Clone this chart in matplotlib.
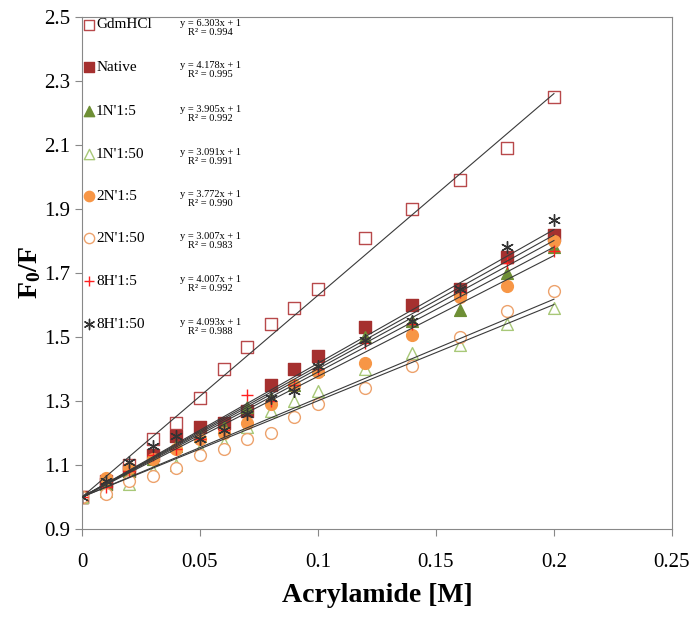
import numpy as np
import matplotlib
matplotlib.use("Agg")
import matplotlib.pyplot as plt

plt.rcParams['font.family'] = ['Liberation Serif', 'DejaVu Serif']
plt.rcParams['mathtext.default'] = 'regular'

# acrylamide concentration [M]
conc = [0, 0.01, 0.02, 0.03, 0.04, 0.05, 0.06, 0.07, 0.08, 0.09, 0.1,
        0.12, 0.14, 0.16, 0.18, 0.2]

gdmhcl = [1.0, 1.05, 1.10, 1.18, 1.23, 1.31, 1.40, 1.47, 1.54, 1.59, 1.65,
          1.81, 1.90, 1.99, 2.09, 2.25]
native = [1.0, 1.04, 1.08, 1.13, 1.19, 1.22, 1.23, 1.27, 1.35, 1.40, 1.44,
          1.53, 1.60, 1.65, 1.75, 1.82]
n1_5 = [1.0, 1.04, 1.08, 1.12, 1.16, 1.19, 1.22, 1.28, 1.31, 1.35, 1.40,
        1.50, 1.55, 1.585, 1.70, 1.78]
n1_50 = [1.0, 1.02, 1.04, 1.08, 1.10, 1.15, 1.17, 1.22, 1.27, 1.30, 1.33,
         1.40, 1.45, 1.475, 1.54, 1.59]
n2_5 = [1.0, 1.06, 1.09, 1.12, 1.15, 1.18, 1.20, 1.23, 1.29, 1.35, 1.39,
        1.42, 1.505, 1.625, 1.66, 1.80]
n2_50 = [1.0, 1.01, 1.05, 1.065, 1.09, 1.13, 1.15, 1.18, 1.20, 1.25, 1.29,
         1.34, 1.41, 1.50, 1.58, 1.645]
h8_5 = [1.0, 1.03, 1.08, 1.13, 1.15, 1.18, 1.21, 1.32, 1.30, 1.35, 1.40,
        1.48, 1.54, 1.64, 1.73, 1.77]
h8_50 = [1.0, 1.05, 1.11, 1.16, 1.19, 1.18, 1.21, 1.26, 1.31, 1.33, 1.41,
         1.49, 1.55, 1.65, 1.78, 1.865]

names = ["GdmHCl", "Native", "1N'1:5", "1N'1:50", "2N'1:5", "2N'1:50",
         "8H'1:5", "8H'1:50"]
series = [gdmhcl, native, n1_5, n1_50, n2_5, n2_50, h8_5, h8_50]
slopes = [6.303, 4.178, 3.905, 3.091, 3.772, 3.007, 4.007, 4.093]
r2 = [0.994, 0.995, 0.992, 0.991, 0.990, 0.983, 0.992, 0.988]

# marker, face, edge
styles = [
    ("s", "white", "#B8494B"),
    ("s", "#A5302F", "#A5302F"),
    ("^", "#6E8F35", "#6E8F35"),
    ("^", "white", "#A8C878"),
    ("o", "#F79646", "#F79646"),
    ("o", "white", "#EDA26C"),
    ("+", "#FF2020", "#FF2020"),
    ((6, 2, 0), "#333333", "#333333"),
]

fig = plt.figure(figsize=(6.92, 6.18), dpi=100)
ax = fig.add_axes([0.1185, 0.144, 0.8525, 0.8285])

xfit = np.array([conc[0], conc[-1]])
for s, k in zip(series, slopes):
    ax.plot(xfit, 1 + k * xfit, color="#3a3a3a", lw=0.8, zorder=3)

for s, (m, fc, ec) in zip(series, styles):
    ax.scatter(conc, s, marker=m, s=72, facecolors=fc, edgecolors=ec,
               linewidths=1.0, zorder=2)

# legend-like annotations
row_y = [0.985, 0.902, 0.816, 0.732, 0.650, 0.568, 0.484, 0.400]
for i, (nm, k, r, (m, fc, ec)) in enumerate(zip(names, slopes, r2, styles)):
    y = row_y[i]
    ax.scatter([0.012], [y], transform=ax.transAxes, marker=m, s=55,
               facecolors=fc, edgecolors=ec, linewidths=1.0, clip_on=False,
               zorder=4)
    ax.text(0.024, y, nm, transform=ax.transAxes, fontsize=11,
            va="center", ha="left")
    ax.text(0.218, y + 0.012, f"y = {k:.3f}x + 1\nR\u00b2 = {r:.3f}",
            transform=ax.transAxes, fontsize=7.5, va="top", ha="center",
            linespacing=1.05)

ax.set_xlim(0, 0.25)
ax.set_ylim(0.9, 2.5)
ax.set_xticks([0, 0.05, 0.1, 0.15, 0.2, 0.25])
ax.set_xticklabels(["0", "0.05", "0.1", "0.15", "0.2", "0.25"])
ax.set_yticks(np.arange(0.9, 2.51, 0.2))
ax.set_yticklabels(["0.9", "1.1", "1.3", "1.5", "1.7", "1.9", "2.1", "2.3", "2.5"])
ax.tick_params(labelsize=15, color="#888888", length=5, width=0.8)
ax.tick_params(axis="x", pad=12)
for sp in ax.spines.values():
    sp.set_color("#888888")
    sp.set_linewidth(0.8)

ax.set_xlabel("Acrylamide [M]", fontsize=20, fontweight="bold", labelpad=8)
ax.set_ylabel(r"F$_\mathregular{0}$/F", fontsize=20, fontweight="bold",
              labelpad=1)

fig.savefig("out.png", dpi=100)
